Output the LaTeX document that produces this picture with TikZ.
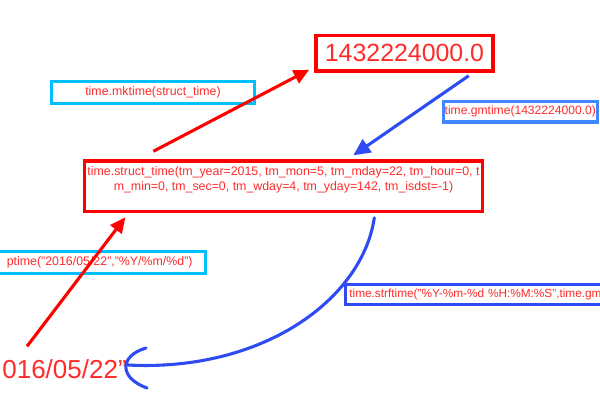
\documentclass[tikz,border=0pt]{standalone}
\usepackage{fontspec}
\setmainfont{Liberation Sans}
\usepackage{tikz}
\usetikzlibrary{calc,arrows.meta}
\definecolor{line}{HTML}{FF0000}
\definecolor{txt}{HTML}{FF2A2A}
\definecolor{sky}{HTML}{00BFFF}
\definecolor{deepblue}{HTML}{2F4CF2}
\definecolor{paleblue}{HTML}{3F86FF}
\tikzset{
  boxText/.style={text=txt, font=\fontsize{8.8}{10.7}\selectfont},
  bigText/.style={text=txt, font=\fontsize{17.7}{20}\selectfont},
  redBox/.style={draw=line, line width=2.4pt},
  skyBox/.style={boxText, draw=sky, line width=2.3pt, minimum height=15.4pt},
  blueBox/.style={boxText, draw=deepblue, line width=2.2pt, minimum height=14.6pt, inner xsep=1.5pt},
  redArrow/.style={draw=line, line width=2.2pt, -{Triangle[length=11pt, width=10pt]}},
  blueArrow/.style={draw=deepblue, line width=2.2pt, -{Triangle[length=12pt, width=11pt]}},
  barb/.style={draw=deepblue, line width=2.2pt, line cap=round}
}

\begin{document}
\begin{tikzpicture}[x=0.025cm, y=-0.025cm]
\useasboundingbox (0,0) rectangle (600,400);
% value boxes
\node[redBox, bigText, minimum width=126pt, minimum height=25.1pt] (num) at (404.5,53.4) {1432224000.0};
\node[redBox, minimum width=283pt, minimum height=36pt] (st) at (283.5,186.3) {};
\node[boxText, align=center, anchor=north, inner sep=0pt] (stTxt) at ($(st.north)+(0,7)$)
  {time.struct\_time(tm\_year=2015, tm\_mon=5, tm\_mday=22, tm\_hour=0, t\\m\_min=0, tm\_sec=0, tm\_wday=4, tm\_yday=142, tm\_isdst=-1)};
\node[bigText, font=\fontsize{18.5}{22}\selectfont, anchor=base east, inner sep=0pt] (date) at (127,378) {016/05/22”};
% function boxes
\node[skyBox, minimum width=144pt] (mk) at (153,92.5) {time.mktime(struct\_time)};
\node[skyBox, anchor=east, text width=200pt, align=right, inner xsep=9pt] (sp) at (206.8,262.5) {ptime("2016/05/22","\%Y/\%m/\%d")};
\node[blueBox, draw=paleblue, anchor=west, inner xsep=0.8pt, font=\fontsize{8.6}{10}\selectfont] (gm) at (442,111.7) {time.gmtime(1432224000.0)};
\node[blueBox, anchor=west, inner xsep=2.5pt, text width=200pt, font=\fontsize{8.4}{10}\selectfont] (sf) at (344.3,294.5) {time.strftime("\%Y-\%m-\%d \%H:\%M:\%S",time.gm};
% conversions
\draw[redArrow] ($(st.north west)+(70.5,-8)$) -- ($(num.south west)+(-5,-3)$);
\draw[blueArrow] ($(num.south east)+(-26,3)$) -- ($(st.north west)+(270.5,-4)$);
\draw[redArrow] ($(date.north east)+(-100,-12.5)$) -- ($(st.south west)+(42.5,4)$);
\coordinate (tip) at ($(date.base east)+(1,-13)$);
\draw[barb] ($(st.south west)+(291.5,4.5)$) .. controls (362,300) and (262,372) .. (tip);
\draw[barb] ($(tip)+(18,-17)$) .. controls ($(tip)+(-9,-9)$) and ($(tip)+(-9,13)$) .. ($(tip)+(19,23)$);
\end{tikzpicture}
\end{document}
